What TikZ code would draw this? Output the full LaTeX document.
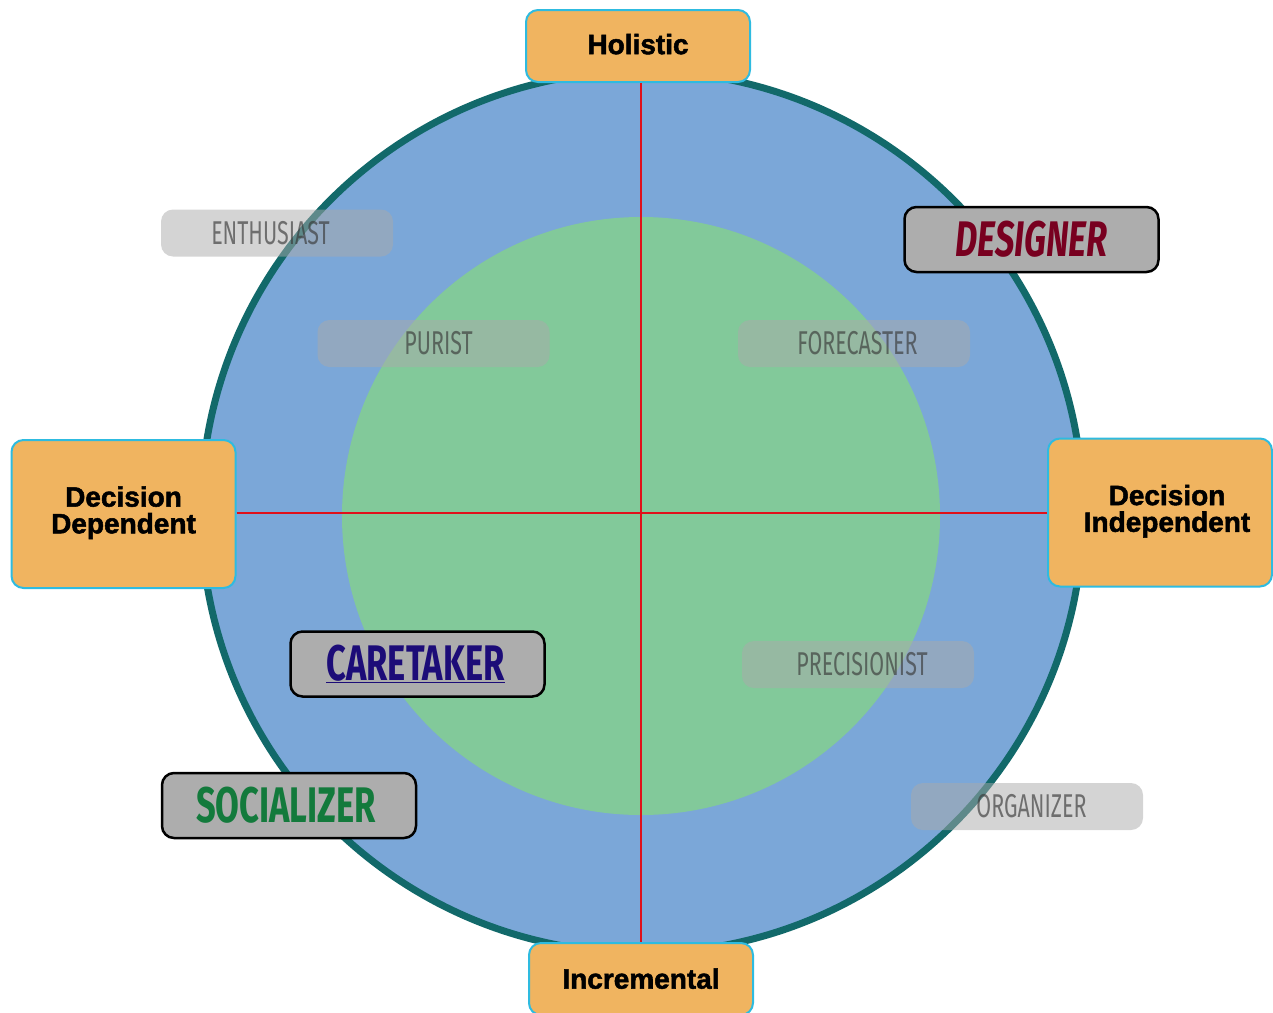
\documentclass[tikz,border=0pt]{standalone}
\usepackage{fontspec}
\newfontfamily\boxfont[FakeBold=1.8]{Liberation Sans}
\newfontfamily\condbold[FakeStretch=0.69]{Fira Sans}
\newfontfamily\condlight[FakeStretch=0.65]{Fira Sans}
\definecolor{cblue}{HTML}{7BA7D8}
\definecolor{cgreen}{HTML}{82C99A}
\definecolor{cteal}{HTML}{12696A}
\definecolor{corange}{HTML}{F0B460}
\definecolor{ccyan}{HTML}{2EBBE0}
\definecolor{cgray}{HTML}{ADADAD}
\definecolor{cfade}{HTML}{AAAAAA}
\definecolor{cfadetext}{HTML}{383838}
\definecolor{cdesigner}{HTML}{780020}
\definecolor{ccaretaker}{HTML}{1C0C78}
\definecolor{csocial}{HTML}{137A3C}
\definecolor{cred}{HTML}{E0101A}
\tikzset{
  axisbox/.style={draw=ccyan, line width=2pt, fill=corange, rounded corners=12pt,
    minimum width=224pt, minimum height=72pt, inner sep=0pt, align=center,
    font=\boxfont\bfseries\fontsize{28}{28}\selectfont},
  typebox/.style={draw=black, line width=2.5pt, fill=cgray, rounded corners=12pt,
    minimum width=254pt, minimum height=65pt, inner sep=0pt,
    font=\condbold\bfseries\fontsize{50}{52}\selectfont},
  fadebox/.style={fill=cfade, fill opacity=0.5, text=cfadetext, text opacity=0.65,
    rounded corners=12pt, minimum width=232pt, minimum height=47pt, inner sep=0pt,
    font=\condlight\fontsize{33}{34}\selectfont},
  axisline/.style={draw=cred, line width=2.5pt},
}
\begin{document}
\begin{tikzpicture}[x=1pt,y=-1pt]
\useasboundingbox (0,0) rectangle (1273,1012);
% circles
\filldraw[fill=cblue, draw=cteal, line width=7pt] (642,512) circle[radius=441];
\fill[cgreen] (641,516) circle[radius=299];
% axis boxes
\node[axisbox] (hol) at (638,46) {\raisebox{4pt}{Holistic}};
\node[axisbox] (inc) at (641,979) {\raisebox{1pt}{Incremental}};
\node[axisbox, minimum height=148pt] (dep) at (123.5,514) {\raisebox{6pt}{\begin{tabular}{@{}c@{}}Decision\\[-2pt]Dependent\end{tabular}}};
\node[axisbox, minimum height=148pt] (ind) at (1160,512.5) {\hspace*{14pt}\raisebox{3pt}{\begin{tabular}{@{}c@{}}Decision\\[-2pt]Independent\end{tabular}}};
% axes
\draw[axisline] (hol.south -| 641,0) -- (inc.north -| 641,0);
\draw[axisline] (dep.east |- 0,513) -- (ind.west |- 0,513);
% type boxes
\node[typebox, text=cdesigner] (des) at (1031.5,239.5) {\itshape DESIGNER};
\node[typebox, text=ccaretaker] (care) at (417.5,664) {\hspace*{-4pt}\underline{CARETAKER}};
\node[typebox, text=csocial] (soc) at (289,805.5) {\hspace*{-6pt}SOCIALIZER};
% faded boxes
\node[fadebox] (ent) at (277,233) {\hspace*{-13pt}ENTHUSIAST};
\node[fadebox] (pur) at (433.5,343.5) {\hspace*{10pt}PURIST};
\node[fadebox] (fore) at (854,343.5) {\hspace*{7pt}FORECASTER};
\node[fadebox] (prec) at (858,664.5) {\hspace*{8pt}PRECISIONIST};
\node[fadebox] (org) at (1027,806.5) {\hspace*{9pt}ORGANIZER};
\end{tikzpicture}
\end{document}
